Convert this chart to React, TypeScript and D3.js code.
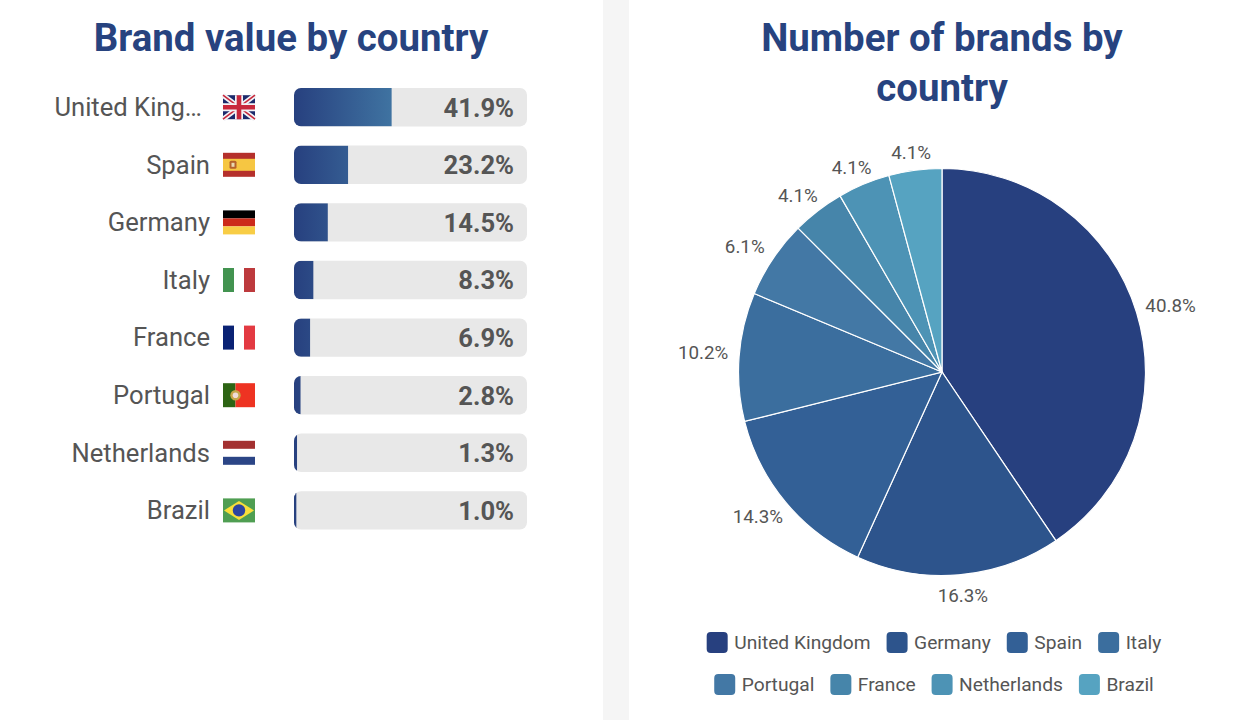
import React from "react";
import * as d3 from "d3";

// left panel: brand value
const valueCountries = ["United Kingdom", "Spain", "Germany", "Italy", "France", "Portugal", "Netherlands", "Brazil"];
const valueShares = [41.9, 23.2, 14.5, 8.3, 6.9, 2.8, 1.3, 1.0];

// right panel: number of brands
const brandCountries = ["United Kingdom", "Germany", "Spain", "Italy", "Portugal", "France", "Netherlands", "Brazil"];
const brandLabels = [40.8, 16.3, 14.3, 10.2, 6.1, 4.1, 4.1, 4.1];
// slice sizes as drawn in the picture, a touch off the printed labels
const brandSlices = [40.55, 16.25, 14.3, 10.2, 6.2, 4.15, 4.15, 4.2];
const brandColors = ["#27407f", "#2d548c", "#336096", "#3b6e9e", "#4378a5", "#4685aa", "#4d93b5", "#56a3c1"];

const NAVY = "#27437f";
const GREY = "#555555";
const FONT = "Roboto, sans-serif";

const x = d3.scaleLinear().domain([0, 100]).range([294, 527]);
const y = d3.scaleBand<string>().domain(valueCountries).range([88, 529.6]).paddingInner(1 / 3);

const cx = 942;
const cy = 372;
const radius = 203.5;
const pie = d3.pie<number>().sort(null).value((d) => d);
const slices = pie(brandSlices);
const labelSlices = pie(brandLabels);
const arc = d3.arc<d3.PieArcDatum<number>>().innerRadius(0).outerRadius(radius);
const color = d3.scaleOrdinal<string, string>().domain(brandCountries).range(brandColors);

const measure = (text: string, font: string) => {
  const ctx = document.createElement("canvas").getContext("2d")!;
  ctx.font = font;
  return ctx.measureText(text).width;
};

// 32x24 flags, local coordinates
const Flag: React.FC<{ name: string }> = ({ name }) => {
  switch (name) {
    case "United Kingdom":
      return (
        <g>
          <rect width={32} height={24} fill="#1c2a6c" />
          <path d="M0,0L32,24M32,0L0,24" stroke="#f3f3f6" strokeWidth={5} />
          <path d="M0,0L32,24M32,0L0,24" stroke="#c8283c" strokeWidth={1.6} />
          <path d="M16,0V24M0,12H32" stroke="#f3f3f6" strokeWidth={8} />
          <path d="M16,0V24M0,12H32" stroke="#c8283c" strokeWidth={4.6} />
        </g>
      );
    case "Spain":
      return (
        <g>
          <rect width={32} height={24} fill="#b5302c" />
          <rect y={6} width={32} height={12} fill="#f6c642" />
          <rect x={6.5} y={8} width={7} height={8} rx={1.5} fill="#b5622c" />
          <rect x={8.5} y={10} width={3} height={4} fill="#e8d8b0" />
        </g>
      );
    case "Germany":
      return (
        <g>
          <rect width={32} height={8} fill="#000000" />
          <rect y={8} width={32} height={8} fill="#cc2a1a" />
          <rect y={16} width={32} height={8} fill="#f8cd45" />
        </g>
      );
    case "Italy":
      return (
        <g>
          <rect width={11} height={24} fill="#429350" />
          <rect x={21} width={11} height={24} fill="#bd3a3d" />
        </g>
      );
    case "France":
      return (
        <g>
          <rect width={11} height={24} fill="#0a2274" />
          <rect x={21} width={11} height={24} fill="#e33a42" />
        </g>
      );
    case "Portugal":
      return (
        <g>
          <rect width={12.5} height={24} fill="#2d6414" />
          <rect x={12.5} width={19.5} height={24} fill="#ee3322" />
          <circle cx={12.5} cy={12} r={5.2} fill="#c9a64a" />
          <circle cx={12.5} cy={12} r={2.8} fill="#f0dcd8" />
        </g>
      );
    case "Netherlands":
      return (
        <g>
          <rect width={32} height={8} fill="#a33030" />
          <rect y={16} width={32} height={8} fill="#2b4586" />
        </g>
      );
    default:
      return (
        <g>
          <rect width={32} height={24} fill="#4f9e52" />
          <path d="M1,12L16,2.5L31,12L16,21.5Z" fill="#f8de3a" />
          <circle cx={16} cy={12} r={6.2} fill="#2d44a0" />
        </g>
      );
  }
};

const Legend: React.FC = () => {
  const font = `19.2px ${FONT}`;
  const rows = [brandCountries.slice(0, 4), brandCountries.slice(4)];
  const rowY = d3.scalePoint<number>().domain([0, 1]).range([642.5, 684.5]);
  const swatch = 21;
  const pad = 6.5;
  const gap = 16;
  return (
    <g>
      {rows.map((row, r) => {
        const widths = row.map((n) => swatch + pad + measure(n, font));
        const total = d3.sum(widths) + gap * (row.length - 1);
        let left = 934 - total / 2;
        return row.map((name, i) => {
          const at = left;
          left += widths[i] + gap;
          return (
            <g key={name} transform={`translate(${at},${rowY(r)})`}>
              <rect y={-swatch / 2} width={swatch} height={swatch} rx={4} fill={color(name)} />
              <text x={swatch + pad} dy="0.35em" fontSize={19.2} fill={GREY}>{name}</text>
            </g>
          );
        });
      })}
    </g>
  );
};

export default function App() {
  const labelW = 50;
  const labelH = 15;
  return (
    <svg width={1250} height={720} fontFamily={FONT} style={{ position: "absolute", left: 0, top: 0 }}>
      <defs>
        <linearGradient id="barFill" gradientUnits="userSpaceOnUse" x1={294} x2={484} y1={0} y2={0}>
          <stop offset="0%" stopColor="#27407f" />
          <stop offset="100%" stopColor="#56a3c1" />
        </linearGradient>
      </defs>
      <rect width={1250} height={720} fill="#ffffff" />
      <rect x={603} width={26} height={720} fill="#f5f5f5" />

      <text x={291} y={51} textAnchor="middle" fontSize={38.4} fontWeight={700} fill={NAVY}>Brand value by country</text>
      <text textAnchor="middle" fontSize={38.4} fontWeight={700} fill={NAVY}>
        <tspan x={942} y={51}>Number of brands by</tspan>
        <tspan x={942} y={100.5}>country</tspan>
      </text>

      {valueCountries.map((name, i) => {
        const top = y(name)!;
        const h = y.bandwidth();
        const mid = top + h / 2;
        const full = x.range();
        return (
          <g key={name}>
            <clipPath id={`track-${i}`}>
              <rect x={full[0]} y={top} width={full[1] - full[0]} height={h} rx={7} />
            </clipPath>
            <text x={name === "United Kingdom" ? 202 : 210} y={mid + 0.4} dy="0.33em" textAnchor="end" fontSize={25.6} fill={GREY}>
              {name === "United Kingdom" ? "United King…" : name}
            </text>
            <g transform={`translate(223,${mid - 12})`}>
              <Flag name={name} />
            </g>
            <rect x={full[0]} y={top} width={full[1] - full[0]} height={h} rx={7} fill="#e8e8e8" />
            <rect
              x={full[0]}
              y={top}
              width={x(valueShares[i]) - full[0]}
              height={h}
              fill="url(#barFill)"
              clipPath={`url(#track-${i})`}
            />
            <text x={514} y={mid + 0.4} dy="0.35em" textAnchor="end" fontSize={25.6} fontWeight={700} fill={GREY}>
              {valueShares[i].toFixed(1)}%
            </text>
          </g>
        );
      })}

      <g transform={`translate(${cx},${cy})`}>
        {slices.map((s, i) => (
          <path key={i} d={arc(s)!} fill={brandColors[i]} stroke="#ffffff" strokeWidth={1.2} />
        ))}
        {labelSlices.map((s, i) => {
          let mid = (s.startAngle + s.endAngle) / 2;
          // labels on the lower right sit slightly further round
          if (mid < Math.PI * 1.3) mid -= 0.021;
          const sin = Math.sin(mid);
          const cos = Math.cos(mid);
          return (
            <text
              key={i}
              x={sin * 215 + (sin * labelW) / 2}
              y={-cos * 215 - (cos * labelH) / 2 + 1.5}
              dy="0.35em"
              textAnchor="middle"
              fontSize={18.8}
              fill={GREY}
            >
              {brandLabels[i].toFixed(1)}%
            </text>
          );
        })}
      </g>

      <Legend />
    </svg>
  );
}
